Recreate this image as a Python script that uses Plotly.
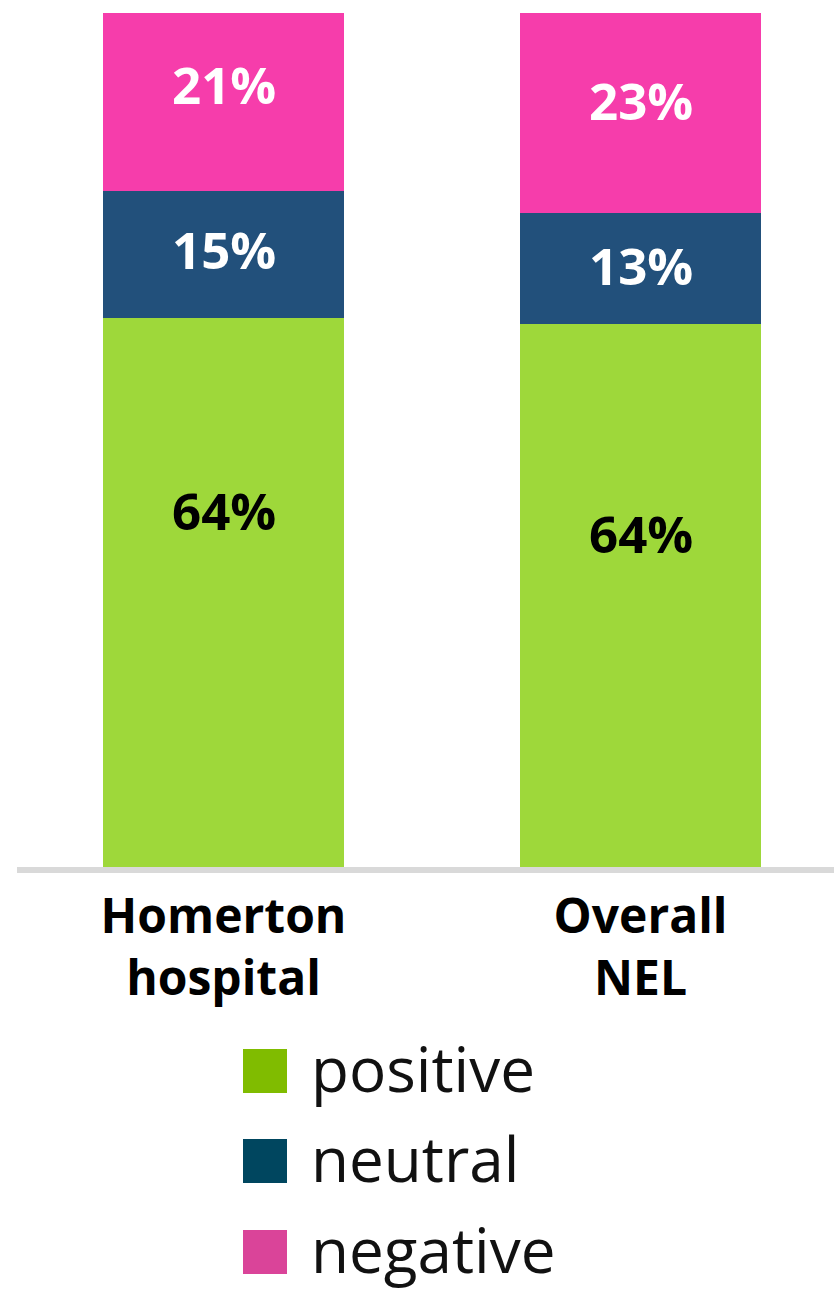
import plotly.graph_objects as go

categories = ["Homerton<br>hospital", "Overall<br>NEL"]
series_names = ["positive", "neutral", "negative"]
positive = [64.3, 63.6]
neutral = [14.8, 13.0]
negative = [20.9, 23.4]
value_labels = {
    "positive": ["64%", "64%"],
    "neutral": ["15%", "13%"],
    "negative": ["21%", "23%"],
}

bar_colors = {"positive": "#9ED83A", "neutral": "#22507B", "negative": "#F63DAB"}
legend_colors = {"positive": "#80BC00", "neutral": "#00465F", "negative": "#DA4499"}
label_colors = {"positive": "#000000", "neutral": "#FFFFFF", "negative": "#FFFFFF"}
label_frac = {"positive": [0.65, 0.615], "neutral": [0.545, 0.53], "negative": [0.60, 0.565]}

W, H = 834, 1290
ML, MR, MT, MB = 17, 0, 13, 423
PW, PH = W - ML - MR, H - MT - MB

x_idx = list(range(len(categories)))
data = {"positive": positive, "neutral": neutral, "negative": negative}

fig = go.Figure()
for name in series_names:
    fig.add_trace(go.Bar(
        x=x_idx, y=data[name], name=name, width=0.578,
        marker=dict(color=bar_colors[name], line=dict(width=0)),
        showlegend=False, hoverinfo="skip",
    ))

# value labels
annotations = []
base = [0.0] * len(categories)
for name in series_names:
    for i, v in enumerate(data[name]):
        annotations.append(dict(
            x=i, y=base[i] + v * label_frac[name][i], xref="x", yref="y",
            text=value_labels[name][i], showarrow=False,
            font=dict(family="Open Sans", size=51, color=label_colors[name], weight="bold"),
            xanchor="center", yanchor="middle",
        ))
        base[i] += v

# custom legend
def px_to_paper_x(px):
    return (px - ML) / PW

def px_to_paper_y(py):
    return (MT + PH - py) / PH

shapes = []
row_centers = [1071, 1161, 1252]
sq = 44
for name, cy in zip(series_names, row_centers):
    shapes.append(dict(
        type="rect", xref="paper", yref="paper",
        x0=px_to_paper_x(243), x1=px_to_paper_x(243 + sq),
        y0=px_to_paper_y(cy + sq / 2), y1=px_to_paper_y(cy - sq / 2),
        fillcolor=legend_colors[name], line=dict(width=0),
    ))
    annotations.append(dict(
        x=px_to_paper_x(309), y=px_to_paper_y(cy - 3), xref="paper", yref="paper",
        text=name, showarrow=False, xanchor="left", yanchor="middle",
        font=dict(family="Open Sans", size=62, color="#111111"),
    ))

fig.update_layout(
    width=W, height=H,
    margin=dict(l=ML, r=MR, t=MT, b=MB),
    barmode="stack", bargap=0,
    paper_bgcolor="white", plot_bgcolor="white",
    xaxis=dict(
        range=[-0.4952, 1.464], tickvals=x_idx, ticktext=categories,
        showline=True, linecolor="#D9D9D9", linewidth=6,
        showgrid=False, zeroline=False, ticks="",
        tickfont=dict(family="Open Sans", size=48, color="#000000", weight="bold"),
        ticklabelstandoff=2,
        fixedrange=True,
    ),
    yaxis=dict(range=[0, 100], visible=False, fixedrange=True),
    annotations=annotations, shapes=shapes,
)

fig.write_html(
    "out.html",
    config={"displayModeBar": False},
    post_script="document.body.style.margin='0';document.body.style.padding='0';",
)
